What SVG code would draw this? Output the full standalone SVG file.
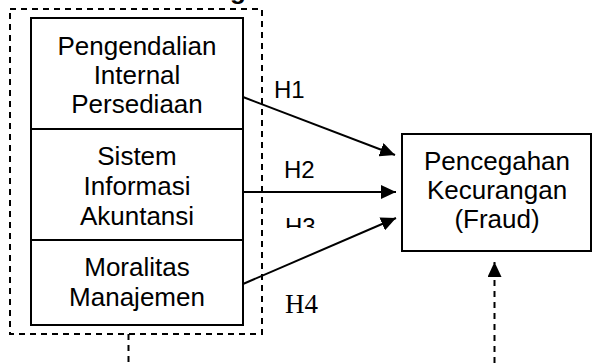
<svg xmlns="http://www.w3.org/2000/svg" width="592" height="363" viewBox="0 0 592 363">
<style>
.box{fill:#fff;stroke:#000;stroke-width:2}
.dash{fill:none;stroke:#000;stroke-width:2;stroke-dasharray:6 5}
.t{font-family:"Liberation Sans",Arial,sans-serif;font-size:26px;fill:#000;text-anchor:middle}
.h{font-family:"Liberation Sans",Arial,sans-serif;font-size:24px;fill:#000}
.hs{font-family:"Liberation Serif","Times New Roman",serif;font-size:27px;fill:#000}
.c{stroke:#000;stroke-width:2;fill:none}
</style>
<defs>
<marker id="ah" viewBox="0 0 15 14" refX="15" refY="7" markerWidth="15" markerHeight="14" markerUnits="userSpaceOnUse" orient="auto">
<path d="M0,0 L15,7 L0,14 Z" fill="#000"/>
</marker>
<clipPath id="h3clip"><rect x="270" y="200" width="80" height="28"/></clipPath>
</defs>
<rect width="592" height="363" fill="#fff"/>
<text x="230" y="-1.5" style="font-family:'Liberation Sans',Arial,sans-serif;font-size:26px;font-weight:bold">g</text>
<g id="group">
<rect class="dash" x="10" y="9" width="252" height="325"/>
</g>
<g id="n1">
<rect class="box" x="31" y="18" width="212" height="111"/>
<text class="t" x="137" y="55">Pengendalian</text>
<text class="t" x="137" y="84">Internal</text>
<text class="t" x="137" y="113">Persediaan</text>
</g>
<g id="n2">
<rect class="box" x="31" y="129" width="212" height="111"/>
<text class="t" x="137" y="165">Sistem</text>
<text class="t" x="137" y="195">Informasi</text>
<text class="t" x="137" y="225">Akuntansi</text>
</g>
<g id="n3">
<rect class="box" x="31" y="240" width="212" height="85"/>
<text class="t" x="137" y="276">Moralitas</text>
<text class="t" x="137" y="306">Manajemen</text>
</g>
<g id="n4">
<rect class="box" x="402" y="134" width="189" height="117"/>
<text class="t" x="497" y="170">Pencegahan</text>
<text class="t" x="497" y="199">Kecurangan</text>
<text class="t" x="497" y="228">(Fraud)</text>
</g>
<g id="connectors">
<line class="c" x1="243" y1="97" x2="395" y2="155" marker-end="url(#ah)"/>
<line class="c" x1="243" y1="192" x2="396" y2="192" marker-end="url(#ah)"/>
<line class="c" x1="243" y1="284" x2="396" y2="218" marker-end="url(#ah)"/>
<line class="dash" x1="128.5" y1="334" x2="128.5" y2="363"/>
<line class="dash" x1="494.5" y1="363" x2="494.5" y2="262" marker-end="url(#ah)"/>
</g>
<g id="labels">
<text class="h" x="274" y="98">H1</text>
<text class="h" x="284" y="178">H2</text>
<text class="h" x="285" y="235" clip-path="url(#h3clip)">H3</text>
<text class="hs" x="285" y="313">H4</text>
</g>
</svg>
